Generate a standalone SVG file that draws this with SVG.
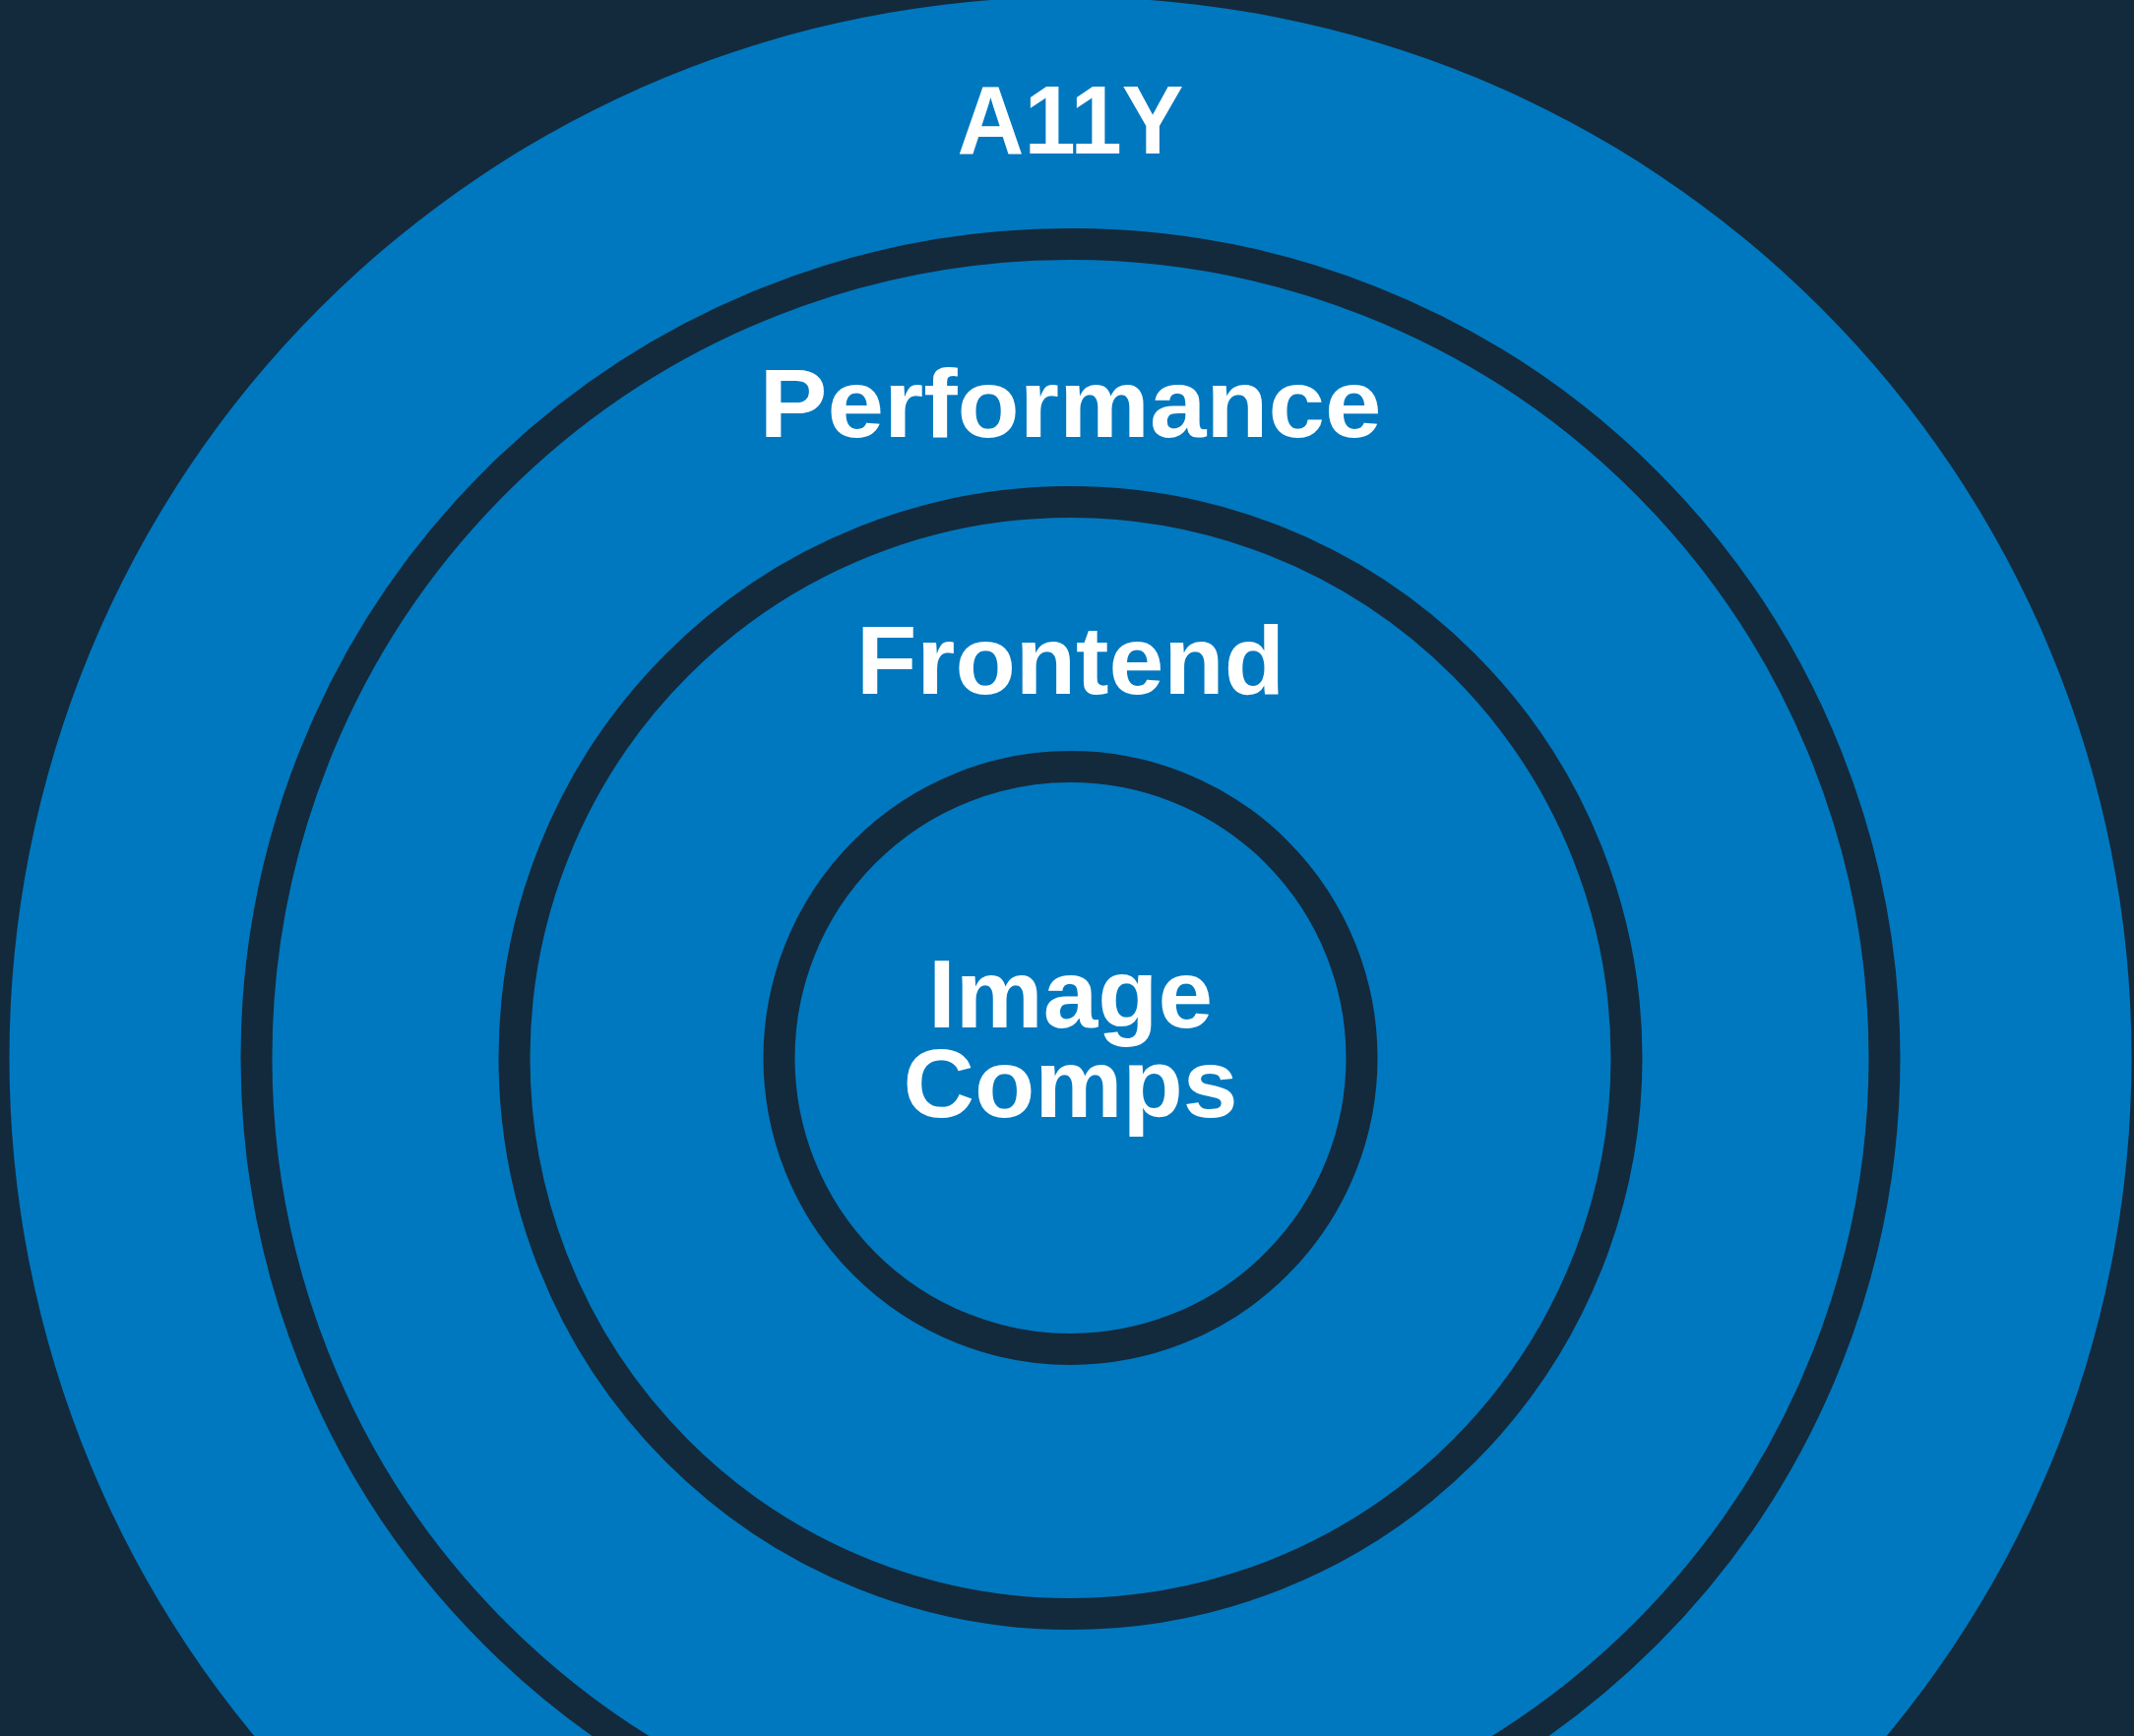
<svg xmlns="http://www.w3.org/2000/svg" width="2168" height="1764" viewBox="0 0 2168 1764">
  <style>
    .ring { fill: none; stroke: #132A3C; stroke-width: 32; }
    .label { fill: #FFFFFF; font-family: "Liberation Sans", Arial, sans-serif; font-weight: 700; font-size: 99px; text-anchor: middle; }
  </style>
  <rect id="background" x="0" y="0" width="2168" height="1764" fill="#132A3C"/>
  <g id="a11y">
    <circle cx="1087.5" cy="1075" r="1078" fill="#0078BF"/>
    <text class="label" x="1087.5" y="156" textLength="230" lengthAdjust="spacingAndGlyphs">A11Y</text>
  </g>
  <g id="performance">
    <circle class="ring" cx="1087.5" cy="1075" r="827"/>
    <text class="label" x="1087.5" y="444" textLength="632" lengthAdjust="spacingAndGlyphs">Performance</text>
  </g>
  <g id="frontend">
    <circle class="ring" cx="1087.5" cy="1075" r="565"/>
    <text class="label" x="1087.5" y="705" textLength="435" lengthAdjust="spacingAndGlyphs">Frontend</text>
  </g>
  <g id="image-comps">
    <circle class="ring" cx="1087.5" cy="1075" r="296"/>
    <text class="label" x="1087.5" y="1044" textLength="289" lengthAdjust="spacingAndGlyphs">Image</text>
    <text class="label" x="1087.5" y="1135" textLength="340" lengthAdjust="spacingAndGlyphs">Comps</text>
  </g>
  <g id="connectors"/>
</svg>
